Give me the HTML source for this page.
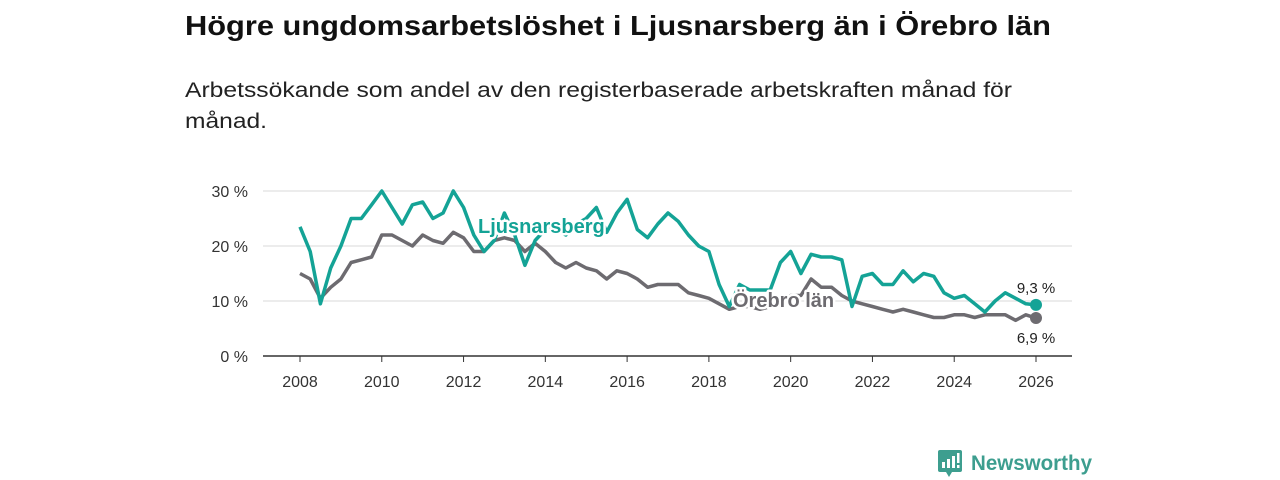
<!DOCTYPE html>
<html><head><meta charset="utf-8"><style>
html,body{margin:0;padding:0;background:#fff;width:1280px;height:480px;overflow:hidden}
svg{display:block;font-family:"Liberation Sans","DejaVu Sans",sans-serif}
</style></head><body>
<svg id="chart" width="1280" height="480" viewBox="0 0 1280 480">
<text x="185" y="35" font-size="28" font-weight="bold" fill="#111" textLength="866" lengthAdjust="spacingAndGlyphs">Högre ungdomsarbetslöshet i Ljusnarsberg än i Örebro län</text>
<text x="185" y="97" font-size="21" fill="#222" textLength="827" lengthAdjust="spacingAndGlyphs">Arbetssökande som andel av den registerbaserade arbetskraften månad för</text>
<text x="185" y="128" font-size="21" fill="#222" textLength="82" lengthAdjust="spacingAndGlyphs">månad.</text>
<g id="grid"></g><g id="axes"></g><g id="series"></g><g id="labels"></g>
<g>
<rect x="938" y="450" width="24" height="22" rx="2" fill="#3d9e8f"/>
<polygon points="946,472 952,472 949,477" fill="#3d9e8f"/>
<rect x="942" y="462" width="3" height="6" fill="#fff"/><rect x="947" y="459" width="3" height="9" fill="#fff"/><rect x="952" y="456" width="3" height="12" fill="#fff"/><rect x="957" y="453" width="2.5" height="10" fill="#fff"/><rect x="957" y="465" width="2.5" height="3" fill="#fff"/>
<text x="971" y="470" font-size="21" font-weight="bold" fill="#3d9e8f" textLength="121" lengthAdjust="spacingAndGlyphs">Newsworthy</text>
</g>
</svg>
<script>
const years=[2008,2010,2012,2014,2016,2018,2020,2022,2024,2026];
const yTicks=[0,10,20,30];
const yTickLabels=["0 %","10 %","20 %","30 %"];
const startYear=2008, step=0.25;
const ljusnarsberg=[23.5,19,9.5,16,20,25,25,27.5,30,27,24,27.5,28,25,26,30,27,22,19,21,26,22,16.5,21,23,23,22,24,25,27,22.5,26,28.5,23,21.5,24,26,24.5,22,20,19,13,9,13,12,12,12,17,19,15,18.5,18,18,17.5,9,14.5,15,13,13,15.5,13.5,15,14.5,11.5,10.5,11,9.5,8,10,11.5,10.5,9.5,9.3];
const orebro=[15,14,10.5,12.5,14,17,17.5,18,22,22,21,20,22,21,20.5,22.5,21.5,19,19,21,21.5,21,19,20.5,19,17,16,17,16,15.5,14,15.5,15,14,12.5,13,13,13,11.5,11,10.5,9.5,8.5,9,9,8.5,9,10,11,11,14,12.5,12.5,11,10,9.5,9,8.5,8,8.5,8,7.5,7,7,7.5,7.5,7,7.5,7.5,7.5,6.5,7.5,6.9];
const NS="http://www.w3.org/2000/svg";
const x=v=>300+(v-2008)*(736/18);
const y=v=>356-v*5.5;
function mk(t,a,p){const e=document.createElementNS(NS,t);for(const k in a)e.setAttribute(k,a[k]);p.appendChild(e);return e;}
const grid=document.getElementById('grid'),axes=document.getElementById('axes'),series=document.getElementById('series'),labels=document.getElementById('labels');
yTicks.forEach((t,i)=>{
 if(t>0){const g=mk('line',{x1:263,x2:1072,y1:y(t),y2:y(t),stroke:'#d9d9d9','stroke-width':1},grid);
 
 }
 const l=mk('text',{x:248,y:y(t)+6,'font-size':16,fill:'#333','text-anchor':'end'},axes);l.textContent=yTickLabels[i];
 
 
});
const ax=mk('line',{x1:263,x2:1072,y1:356,y2:356,stroke:'#333','stroke-width':1.5},axes);


years.forEach(t=>{
 const tk=mk('line',{x1:x(t),x2:x(t),y1:356,y2:362,stroke:'#333'},axes);
 
 
 const l=mk('text',{x:x(t),y:387,'font-size':16,fill:'#333','text-anchor':'middle'},axes);l.textContent=t;
 
 
});
function line(data,color,name){
 const d=data.map((v,i)=>(i?'L':'M')+x(startYear+i*step).toFixed(1)+','+y(v).toFixed(1)).join('');
 const p=mk('path',{d:d,fill:'none',stroke:color,'stroke-width':3.5,'stroke-linejoin':'round'},series);
 
 
 const n=data.length-1;
 const c=mk('circle',{cx:x(startYear+n*step),cy:y(data[n]),r:6,fill:color},series);
 
 
}
line(orebro,'#6d6b70','orebro-lan');
line(ljusnarsberg,'#14a396','ljusnarsberg');
function lab(tx,px,py,color,size,bold,name,anchor){
 const t=mk('text',{x:px,y:py,'font-size':size,fill:color,'font-weight':bold?'bold':'normal',stroke:'#fff','stroke-width':5,'paint-order':'stroke','stroke-linejoin':'round','text-anchor':anchor||'start'},labels);
 t.textContent=tx;
 
 
}
lab('Ljusnarsberg',478,233,'#14a396',20,true,'ljusnarsberg-label');
lab('Örebro län',733,307,'#6d6b70',20,true,'orebro-lan-label');
const n=ljusnarsberg.length-1;
lab(String(ljusnarsberg[n]).replace('.',',')+' %',1036,y(ljusnarsberg[n])-12,'#222',15,false,'ljusnarsberg-end-value','middle');
lab(String(orebro[n]).replace('.',',')+' %',1036,y(orebro[n])+25,'#222',15,false,'orebro-lan-end-value','middle');
</script>
</body></html>
